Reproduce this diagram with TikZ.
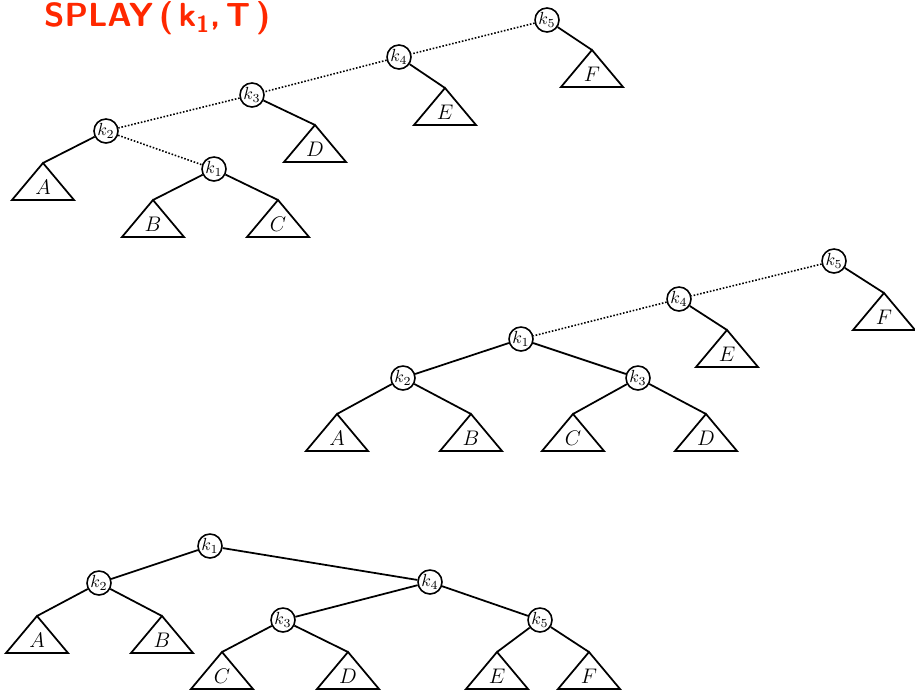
\documentclass[tikz,border=0pt]{standalone}
\usepackage{tikz}
\usetikzlibrary{positioning}

\definecolor{penred}{RGB}{255,40,0}

\tikzset{
  key/.style={draw,circle,line width=0.9pt,inner sep=0pt,minimum size=0.48cm,font=\normalsize},
  tri/.style={line width=1pt,line join=miter},
  lbl/.style={font=\large},
  edge/.style={line width=1pt},
  path/.style={line width=0.9pt,densely dotted},
}

% subtree triangle: name, x, y (apex), label
\newcommand{\subtree}[4]{%
  \coordinate (#1) at (#2,#3);
  \draw[tri] (#1) -- ++(-31,37) -- ++(62,0) -- cycle;
  \path (#1) ++(0,24) node[lbl] (#1l) {$#4$};
}

\begin{document}
\begin{tikzpicture}[x=0.02cm,y=-0.02cm]
\useasboundingbox (0,0) rectangle (915,693);

  % title
  \node[anchor=west,text=penred,font=\sffamily\bfseries\fontsize{19}{22}\selectfont] (title) at (38,18) {SPLAY\,(\,k\textsubscript{1},\,T\,)};

  % first tree, k1 deep down
  \node[key] (ak5) at (547,20) {$k_5$};
  \node[key] (ak4) at (399,57) {$k_4$};
  \node[key] (ak3) at (252,95) {$k_3$};
  \node[key] (ak2) at (106,131) {$k_2$};
  \node[key] (ak1) at (214,169) {$k_1$};
  \subtree{aF}{592}{50}{F}
  \subtree{aE}{445}{88}{E}
  \subtree{aD}{315}{125}{D}
  \subtree{aA}{43}{163}{A}
  \subtree{aB}{153}{200}{B}
  \subtree{aC}{278}{200}{C}
  \draw[path] (ak5) -- (ak4);
  \draw[path] (ak4) -- (ak3);
  \draw[path] (ak3) -- (ak2);
  \draw[path] (ak2) -- (ak1);
  \draw[edge] (ak5) -- (aF);
  \draw[edge] (ak4) -- (aE);
  \draw[edge] (ak3) -- (aD);
  \draw[edge] (ak2) -- (aA);
  \draw[edge] (ak1) -- (aB);
  \draw[edge] (ak1) -- (aC);

  % second tree, after zig-zag
  \node[key] (bk5) at (834,261) {$k_5$};
  \node[key] (bk4) at (679,299) {$k_4$};
  \node[key] (bk1) at (521,339) {$k_1$};
  \node[key] (bk2) at (403,378) {$k_2$};
  \node[key] (bk3) at (638,378) {$k_3$};
  \subtree{bF}{884}{293}{F}
  \subtree{bE}{727}{330}{E}
  \subtree{bA}{337}{414}{A}
  \subtree{bB}{471}{414}{B}
  \subtree{bC}{573}{414}{C}
  \subtree{bD}{706}{414}{D}
  \draw[path] (bk5) -- (bk4);
  \draw[path] (bk4) -- (bk1);
  \draw[edge] (bk5) -- (bF);
  \draw[edge] (bk4) -- (bE);
  \draw[edge] (bk1) -- (bk2);
  \draw[edge] (bk1) -- (bk3);
  \draw[edge] (bk2) -- (bA);
  \draw[edge] (bk2) -- (bB);
  \draw[edge] (bk3) -- (bC);
  \draw[edge] (bk3) -- (bD);

  % third tree, k1 at the root
  \node[key] (ck1) at (210,546) {$k_1$};
  \node[key] (ck2) at (99,583) {$k_2$};
  \node[key] (ck4) at (430,582) {$k_4$};
  \node[key] (ck3) at (283,620) {$k_3$};
  \node[key] (ck5) at (540,620) {$k_5$};
  \subtree{cA}{37}{616}{A}
  \subtree{cB}{162}{616}{B}
  \subtree{cC}{222}{652}{C}
  \subtree{cD}{348}{652}{D}
  \subtree{cE}{497}{652}{E}
  \subtree{cF}{589}{652}{F}
  \draw[edge] (ck1) -- (ck2);
  \draw[edge] (ck1) -- (ck4);
  \draw[edge] (ck4) -- (ck3);
  \draw[edge] (ck4) -- (ck5);
  \draw[edge] (ck2) -- (cA);
  \draw[edge] (ck2) -- (cB);
  \draw[edge] (ck3) -- (cC);
  \draw[edge] (ck3) -- (cD);
  \draw[edge] (ck5) -- (cE);
  \draw[edge] (ck5) -- (cF);

\end{tikzpicture}
\end{document}
